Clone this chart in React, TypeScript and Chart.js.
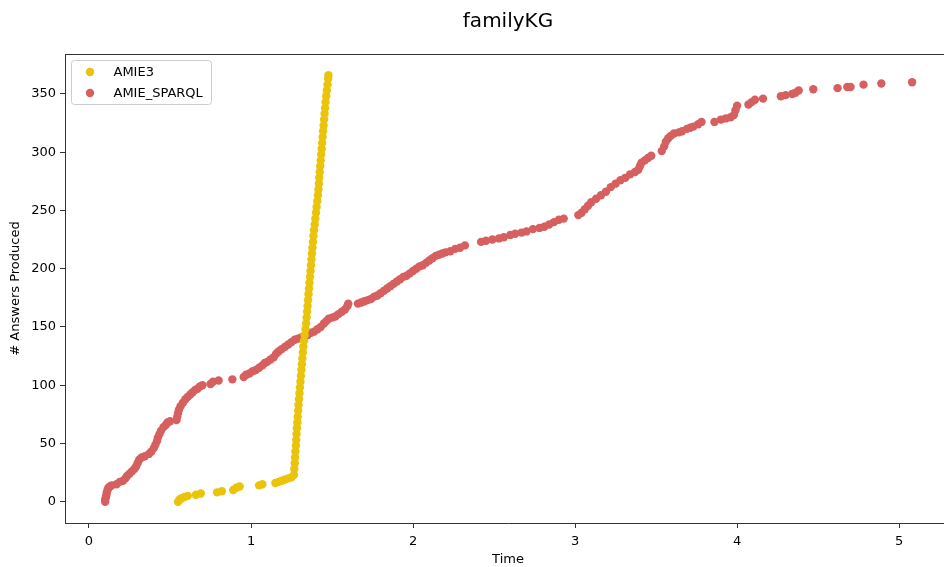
import React, { useEffect, useRef } from "react";
import { Chart, registerables } from "chart.js";

Chart.register(...registerables);

const chartTitle = "familyKG";
const xAxisTitle = "Time";
const yAxisTitle = "# Answers Produced";
const seriesNames = ["AMIE3", "AMIE_SPARQL"];
const seriesColors = ["#EAC30B", "#D65F5F"];
const xTicks = [0, 1, 2, 3, 4, 5];
const yTicks = [0, 50, 100, 150, 200, 250, 300, 350];

const amie3X = [
  0.55, 0.56, 0.57, 0.59, 0.61, 0.66, 0.69, 0.79, 0.82, 0.89, 0.91, 0.93, 1.05, 1.07, 1.15, 1.17, 1.19, 1.21, 1.23, 1.25, 1.265,
  1.267, 1.27, 1.272, 1.274, 1.277, 1.279, 1.281, 1.283, 1.286, 1.288, 1.291, 1.293, 1.296, 1.299, 1.302, 1.305, 1.308, 1.311,
  1.314, 1.317, 1.32, 1.323, 1.327, 1.331, 1.336, 1.34, 1.343, 1.346, 1.349, 1.352, 1.355, 1.358, 1.361, 1.364, 1.367, 1.37,
  1.373, 1.376, 1.379, 1.382, 1.385, 1.389, 1.393, 1.397, 1.401, 1.405, 1.409, 1.413, 1.416, 1.419, 1.421, 1.424, 1.427, 1.43,
  1.433, 1.436, 1.439, 1.442, 1.445, 1.448, 1.451, 1.454, 1.457, 1.46, 1.464, 1.468, 1.472, 1.476, 1.478,
];
const amie3Y = [
  0, 2, 3, 4, 5, 6, 7, 8, 9, 10, 12, 13, 14, 15, 16, 17, 18, 19, 20, 21, 23,
  28, 33, 38, 43, 48, 53, 58, 63, 68, 73, 78, 83, 88, 93, 98, 103, 108, 113,
  118, 123, 128, 133, 138, 143, 148, 153, 158, 163, 168, 173, 178, 183, 188, 193, 198, 203,
  208, 213, 218, 223, 228, 233, 238, 243, 248, 253, 258, 263, 268, 273, 278, 283, 288, 293,
  298, 303, 308, 313, 318, 323, 328, 333, 338, 343, 348, 353, 358, 363, 366,
];

const sparqlX = [
  0.1, 0.1, 0.105, 0.108, 0.11, 0.115, 0.12, 0.13, 0.14, 0.17, 0.19, 0.21, 0.225, 0.235, 0.25, 0.265, 0.28, 0.29, 0.3, 0.31,
  0.325, 0.345, 0.37, 0.385, 0.4, 0.41, 0.42, 0.425, 0.435, 0.445, 0.46, 0.475, 0.485, 0.5, 0.54, 0.545, 0.55, 0.555, 0.565,
  0.58, 0.595, 0.61, 0.625, 0.64, 0.655, 0.67, 0.685, 0.7, 0.75, 0.765, 0.8, 0.885, 0.955, 0.97, 0.99, 1.01, 1.03, 1.05, 1.07,
  1.085, 1.1, 1.12, 1.14, 1.155, 1.17, 1.19, 1.21, 1.23, 1.25, 1.27, 1.29, 1.31, 1.33, 1.35, 1.37, 1.39, 1.41, 1.43, 1.45,
  1.465, 1.48, 1.5, 1.52, 1.54, 1.56, 1.58, 1.595, 1.6, 1.66, 1.68, 1.7, 1.72, 1.74, 1.76, 1.78, 1.8, 1.82, 1.84, 1.86, 1.88,
  1.9, 1.92, 1.94, 1.96, 1.98, 2.0, 2.02, 2.04, 2.06, 2.08, 2.1, 2.12, 2.14, 2.16, 2.18, 2.2, 2.23, 2.26, 2.29, 2.32, 2.42,
  2.45, 2.49, 2.53, 2.56, 2.6, 2.63, 2.67, 2.7, 2.74, 2.78, 2.81, 2.84, 2.87, 2.9, 2.93, 3.02, 3.04, 3.06, 3.08, 3.1, 3.13,
  3.16, 3.19, 3.22, 3.25, 3.28, 3.31, 3.34, 3.37, 3.39, 3.4, 3.41, 3.43, 3.45, 3.47, 3.535, 3.55, 3.56, 3.575, 3.59, 3.61,
  3.64, 3.66, 3.69, 3.71, 3.73, 3.76, 3.78, 3.86, 3.9, 3.93, 3.96, 3.98, 3.99, 4.0, 4.07, 4.09, 4.11, 4.16, 4.27, 4.3, 4.34,
  4.36, 4.38, 4.47, 4.62, 4.68, 4.7, 4.78, 4.89, 5.08,
];
const sparqlY = [
  0, 2, 4, 6, 8, 10, 12, 13, 14, 15, 17, 18, 20, 22, 24, 26, 28, 30, 33, 36,
  38, 39, 41, 43, 46, 49, 52, 55, 58, 61, 64, 66, 68, 69, 70, 73, 76, 79, 82,
  85, 88, 90, 92, 94, 96, 97, 99, 100, 101, 103, 104, 105, 107, 109, 110, 112, 113, 115, 117,
  119, 120, 122, 124, 127, 129, 131, 133, 135, 137, 139, 140, 141, 142, 143, 145, 146, 148, 150, 153,
  155, 157, 158, 159, 161, 163, 165, 168, 170, 170, 171, 172, 173, 174, 176, 177, 179, 181, 183, 185, 187,
  189, 191, 193, 194, 196, 198, 200, 202, 203, 205, 207, 209, 211, 212, 213, 214, 215, 217, 218, 220, 223,
  224, 225, 226, 227, 229, 230, 231, 232, 234, 235, 236, 238, 240, 242, 243, 246, 248, 251, 254, 257, 260,
  263, 266, 270, 273, 276, 278, 281, 283, 285, 288, 291, 293, 295, 297, 301, 305, 309, 312, 314, 316,
  317, 318, 320, 321, 322, 324, 326, 326, 328, 329, 330, 332, 336, 340, 341, 343, 345, 346, 348, 349, 350,
  351, 353, 354, 355, 356, 356, 358, 359, 360,
];

const FONT = '"DejaVu Sans", sans-serif';
const SPINE = "#333333";

const spinesPlugin = {
  id: "spines",
  afterDraw(chart: any) {
    const { ctx, chartArea } = chart;
    const l = Math.round(chartArea.left) + 0.5;
    const r = Math.round(chartArea.right) - 0.5;
    const t = Math.round(chartArea.top) + 0.5;
    const b = Math.round(chartArea.bottom) - 0.5;
    ctx.save();
    ctx.strokeStyle = SPINE;
    ctx.lineWidth = 1;
    ctx.beginPath();
    ctx.moveTo(l, t);
    ctx.lineTo(r, t);
    ctx.lineTo(r, b);
    ctx.stroke();
    ctx.restore();
  },
};

const legendPlugin = {
  id: "mplLegend",
  afterDraw(chart: any) {
    const { ctx, chartArea } = chart;
    const x0 = chartArea.left + 6.5;
    const y0 = chartArea.top + 6.5;
    const w = 140;
    const h = 44;
    const rad = 3;
    ctx.save();
    ctx.beginPath();
    ctx.moveTo(x0 + rad, y0);
    ctx.lineTo(x0 + w - rad, y0);
    ctx.arcTo(x0 + w, y0, x0 + w, y0 + rad, rad);
    ctx.lineTo(x0 + w, y0 + h - rad);
    ctx.arcTo(x0 + w, y0 + h, x0 + w - rad, y0 + h, rad);
    ctx.lineTo(x0 + rad, y0 + h);
    ctx.arcTo(x0, y0 + h, x0, y0 + h - rad, rad);
    ctx.lineTo(x0, y0 + rad);
    ctx.arcTo(x0, y0, x0 + rad, y0, rad);
    ctx.closePath();
    ctx.fillStyle = "rgba(255,255,255,0.8)";
    ctx.fill();
    ctx.strokeStyle = "#cccccc";
    ctx.lineWidth = 1;
    ctx.stroke();
    ctx.font = "13px " + FONT;
    ctx.textBaseline = "middle";
    ctx.textAlign = "left";
    seriesNames.forEach((name, i) => {
      const cy = y0 + 11.5 + i * 21;
      ctx.beginPath();
      ctx.arc(x0 + 18.5, cy, 4.2, 0, Math.PI * 2);
      ctx.fillStyle = seriesColors[i];
      ctx.fill();
      ctx.fillStyle = "#000000";
      ctx.fillText(name, x0 + 42, cy + 0.5);
    });
    ctx.restore();
  },
};

function zip(xs: number[], ys: number[]) {
  return xs.map((x, i) => ({ x, y: ys[i] }));
}

export default function App() {
  const ref = useRef<HTMLCanvasElement | null>(null);
  useEffect(() => {
    if (!ref.current) return;
    const chart = new Chart(ref.current, {
      type: "scatter",
      data: {
        datasets: [
          {
            label: seriesNames[0],
            data: zip(amie3X, amie3Y),
            backgroundColor: seriesColors[0],
            borderWidth: 0,
            pointRadius: 4.2,
            pointHoverRadius: 4.2,
          },
          {
            label: seriesNames[1],
            data: zip(sparqlX, sparqlY),
            backgroundColor: seriesColors[1],
            borderWidth: 0,
            pointRadius: 4.2,
            pointHoverRadius: 4.2,
          },
        ],
      },
      options: {
        responsive: false,
        animation: false,
        devicePixelRatio: 1,
        layout: { padding: { left: 0, right: 9, top: 0, bottom: 0 } },
        plugins: {
          legend: { display: false },
          tooltip: { enabled: false },
          title: {
            display: true,
            text: chartTitle,
            fullSize: false,
            color: "#000000",
            font: { family: FONT, size: 20, weight: "normal", lineHeight: 1.2 },
            padding: { top: 10, bottom: 20 },
          },
        },
        scales: {
          x: {
            type: "linear",
            min: -0.148,
            max: 5.32,
            afterBuildTicks: (s: any) => {
              s.ticks = xTicks.map((v) => ({ value: v }));
            },
            afterFit: (s: any) => {
              s.height = 44;
            },
            ticks: {
              color: "#000000",
              font: { family: FONT, size: 13 },
              padding: 6,
              maxRotation: 0,
              autoSkip: false,
            },
            grid: {
              display: true,
              drawOnChartArea: false,
              drawTicks: true,
              tickLength: 5,
              tickColor: SPINE,
              tickWidth: 1,
            },
            border: { display: true, color: SPINE, width: 1 },
            title: {
              display: true,
              text: xAxisTitle,
              color: "#000000",
              font: { family: FONT, size: 13 },
              padding: { top: 0, bottom: 0 },
            },
          },
          y: {
            type: "linear",
            min: -18.3,
            max: 384.3,
            afterBuildTicks: (s: any) => {
              s.ticks = yTicks.map((v) => ({ value: v }));
            },
            afterFit: (s: any) => {
              s.width = 65;
            },
            ticks: {
              color: "#000000",
              font: { family: FONT, size: 13 },
              padding: 4,
              autoSkip: false,
            },
            grid: {
              display: true,
              drawOnChartArea: false,
              drawTicks: true,
              tickLength: 5,
              tickColor: SPINE,
              tickWidth: 1,
            },
            border: { display: true, color: SPINE, width: 1 },
            title: {
              display: true,
              text: yAxisTitle,
              color: "#000000",
              font: { family: FONT, size: 13 },
              padding: { top: 8, bottom: 0 },
            },
          },
        },
      },
      plugins: [spinesPlugin, legendPlugin],
    } as any);
    return () => chart.destroy();
  }, []);
  return (
    <div
      style={{
        position: "fixed",
        left: 0,
        top: 0,
        width: 944,
        height: 567,
        overflow: "hidden",
        background: "#ffffff",
      }}
    >
      <canvas ref={ref} width={960} height={567} style={{ display: "block", width: 960, height: 567 }} />
    </div>
  );
}
